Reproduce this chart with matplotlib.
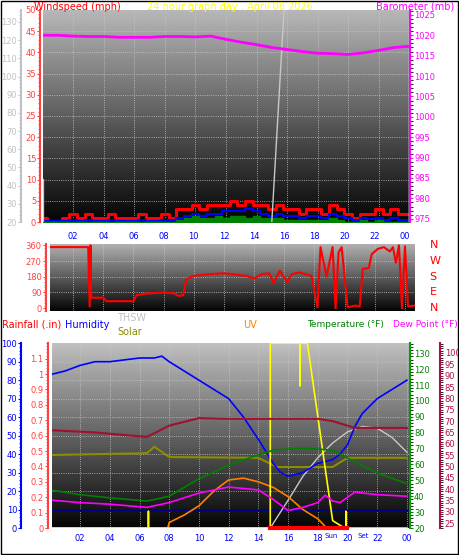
import numpy as np
import matplotlib.pyplot as plt
from matplotlib.ticker import MultipleLocator

# ---- data ----
half_hours = np.arange(0, 24.5, 0.5)
gust = [1, 0, 0, 1, 2, 1, 2, 1, 1, 2,
        1, 1, 1, 2, 1, 1, 2, 1, 3, 3,
        4, 3, 4, 4, 4, 5, 4, 5, 4, 4,
        3, 4, 3, 3, 2, 3, 3, 2, 4, 3,
        2, 1, 2, 2, 3, 2, 3, 2, 2]
wind_avg = [0.3, 0.3, 0.2, 0.3, 0.5, 0.3, 0.5, 0.3, 0.3, 0.5,
            0.3, 0.3, 0.3, 0.5, 0.3, 0.3, 0.5, 0.5, 1.0, 1.5,
            2, 1.5, 2, 2, 2.5, 2.5, 2.5, 3, 2.5, 2,
            1.5, 2, 1.5, 1.5, 1, 1.5, 1.5, 1, 2, 1.5,
            1, 0.5, 1, 0.8, 1, 0.5, 1, 0.5, 0.5]
wind_low = [0, 0, 0, 0, 0, 0, 0, 0, 0, 0,
            0, 0, 0, 0, 0, 0, 0, 0, 0.5, 1,
            1.5, 1, 1, 1.5, 1, 1.5, 1.5, 1, 1.5, 1,
            1, 1, 0.5, 0.5, 0.5, 0.5, 0.5, 0.5, 1, 0.5,
            0, 0, 0.5, 0, 0.5, 0, 0, 0, 0]

hours = np.arange(0, 25)
baro = [1020, 1020, 1019.8, 1019.7, 1019.7, 1019.5, 1019.5, 1019.5, 1019.7, 1019.7,
        1019.6, 1019.8, 1019.0, 1018.3, 1017.7, 1017.0, 1016.5, 1016.0, 1015.6, 1015.5,
        1015.3, 1015.7, 1016.3, 1017.0, 1017.3]
# three separate grey segments (nan breaks the line)
thsw_top_h = [0.05, 0.05, np.nan, 15.0, 15.8, np.nan, 24.0, 24.0]
thsw_top_v = [0, 10, np.nan, 0, 50, np.nan, 0, 48]

dir_h = [0.5, 3, 3.1, 3.15, 3.2, 4, 4.2, 6, 6.2, 7, 8, 8.7, 9, 9.3, 9.5, 10, 11, 12, 13, 13.5,
         14, 14.5, 15, 15.3, 15.7, 16.2, 16.5, 17, 17.8, 18.2, 18.4, 18.8, 19.2, 19.4, 19.6, 19.8,
         20.2, 20.7, 21, 21.2, 21.6, 21.8, 22.2, 22.6, 23, 23.2, 23.4, 23.6, 23.8, 24, 24.2, 24.6]
dir_v = [350, 350, 10, 360, 60, 60, 40, 40, 75, 85, 90, 85, 70, 75, 165, 185, 195, 200, 190, 185,
         170, 195, 200, 145, 215, 150, 195, 205, 185, 5, 350, 180, 350, 0, 320, 350,
         5, 15, 10, 225, 230, 310, 340, 350, 325, 350, 260, 360, 0, 355, 10, 15]

hum_h = [0, 1, 2, 3, 4, 5, 6, 7, 7.5, 8, 9, 10, 11, 12, 13, 14, 15, 15.5, 16, 17, 18, 19, 19.5,
         20, 20.5, 21, 22, 23, 24]
hum_v = [83, 85, 88, 90, 90, 91, 92, 92, 93, 90, 85, 80, 75, 70, 60, 48, 35, 30, 28, 30, 35, 37,
         40, 45, 55, 62, 70, 75, 80]
maroon_h = [0, 3, 6.5, 8, 10, 12, 18, 19, 20.5, 24]
maroon_v = [66, 65, 63, 68, 71.3, 71, 71, 70, 67, 67]
temp_h = [0, 2, 4, 6.5, 8, 10, 12, 14, 15, 17, 19, 20, 22, 24]
temp_v = [44, 41, 39, 37, 40, 51, 59.6, 66, 69, 70.3, 69, 64, 54.6, 48]
dew_h = [0, 2, 4, 6.5, 8, 10, 12, 14, 15, 16, 17, 18, 18.5, 19, 19.5, 20.5, 22, 24]
dew_v = [37.6, 36, 35, 33, 36, 42, 45.8, 44, 38, 31, 33, 36, 40.7, 37, 36, 42.6, 41, 40]
solar_h = [0, 6.5, 7, 8, 14, 14.5, 15.3, 19, 20, 24]
solar_v = [39.5, 40.5, 44, 38.4, 38, 36, 33, 33, 38, 38]
thsw_h = [0, 14.8, 16, 17, 18, 19, 20, 21, 22, 23, 24]
thsw_v = [0, 0, 15, 28, 38, 46, 52, 55, 54, 49, 41]
uv_h = [7.9, 8, 9, 10, 11, 12, 13, 14, 15, 16, 17, 18, 18.6]
uv_v = [0, 3, 7, 12, 20, 26, 27, 25, 22, 17, 10, 5, 0]
yel_h = [0, 6.6, 6.6, 6.6, 14.8, 14.8, 16.8, 16.8, 16.8, 17.3, 19, 19.8, 19.9, 19.9, 19.9, 24]
yel_v = [0, 0, 9, 0, 0, 100, 100, 77, 100, 100, 4, 0, 0, 9, 0, 0]
rain_h = [14.8, 20]
rain_v = [0, 0]

ticks = [2, 4, 6, 8, 10, 12, 14, 16, 18, 20, 22, 24]
tick_lbls = ['02', '04', '06', '08', '10', '12', '14', '16', '18', '20', '22', '00']

fig = plt.figure(figsize=(4.59, 5.55), dpi=100, facecolor='white')
FS = 6
TFS = 7


def gradient(ax, top=0.75):
    g = np.linspace(top, 0.02, 100).reshape(-1, 1)
    ax.imshow(g, cmap='gray', vmin=0, vmax=1, aspect='auto', extent=(0, 1, 0, 1),
              transform=ax.transAxes, zorder=0)


def grid_lines(ax, ys):
    for x in ticks:
        ax.axvline(x, color='#c8c8c8', lw=0.6, ls=':', zorder=1)
    for y in ys:
        ax.axhline(y, color='#c8c8c8', lw=0.6, ls=':', zorder=1)


def left_axis(ax, color, offset, major, minor):
    ax.spines['left'].set_position(('outward', offset))
    ax.spines['left'].set_color(color)
    ax.spines['left'].set_linewidth(1.5)
    ax.yaxis.set_major_locator(MultipleLocator(major))
    ax.yaxis.set_minor_locator(MultipleLocator(minor))
    ax.tick_params(axis='y', colors=color, labelsize=FS, length=2, pad=1)
    ax.tick_params(axis='y', which='minor', colors=color, length=1.5)


def clean(ax):
    for s in ['top', 'bottom', 'right', 'left']:
        ax.spines[s].set_visible(False)


# ---- panel 1: wind and barometer ----
ax1 = fig.add_axes([0.094, 0.6, 0.80, 0.382])
ax1.set_xlim(0.03, 24.07)
ax1.set_ylim(0, 50)
gradient(ax1, 0.72)
grid_lines(ax1, range(5, 50, 5))
clean(ax1)
ax1.spines['left'].set_visible(True)
left_axis(ax1, '#ff4040', 2, 5, 1)
ax1.set_xticks([])
ax1.plot(half_hours, gust, color='red', lw=2.2, drawstyle='steps-mid', zorder=3)
ax1.plot(half_hours, wind_avg, color='blue', lw=1.5, drawstyle='steps-mid', zorder=4)
ax1.fill_between(half_hours, wind_low, color='green', step='mid', zorder=5)
ax1.plot(thsw_top_h, thsw_top_v, color='#c8c8c8', lw=1, zorder=6)

ax1b = ax1.twinx()
clean(ax1b)
ax1b.spines['left'].set_visible(True)
ax1b.yaxis.tick_left()
ax1b.set_ylim(20, 136.6)
left_axis(ax1b, '#c0c0c8', 16, 10, 2)
ax1b.set_yticks(range(20, 140, 10))

ax1c = ax1.twinx()
clean(ax1c)
ax1c.spines['right'].set_visible(True)
ax1c.spines['right'].set_color('magenta')
ax1c.spines['right'].set_linewidth(1.5)
ax1c.set_ylim(974.2, 1026.2)
ax1c.set_yticks(range(975, 1030, 5))
ax1c.yaxis.set_minor_locator(MultipleLocator(1))
ax1c.tick_params(axis='y', colors='magenta', labelsize=FS, length=2, pad=1)
ax1c.plot(hours, baro, color='magenta', lw=2, zorder=5)

fig.text(0.075, 0.997, 'Windspeed (mph)', color='red', fontsize=TFS, va='top')
fig.text(0.5, 0.997, '24 hour graph day : April 08 2026', color='yellow', fontsize=TFS,
         va='top', ha='center')
fig.text(0.99, 0.997, 'Barometer (mb)', color='magenta', fontsize=TFS, va='top', ha='right')

# ---- panel 2: wind direction ----
ax2 = fig.add_axes([0.109, 0.44, 0.795, 0.121])
ax2.set_xlim(0.47, 24.66)
ax2.set_ylim(-15, 370)
gradient(ax2, 0.7)
grid_lines(ax2, [90, 180, 270])
clean(ax2)
ax2.spines['left'].set_visible(True)
left_axis(ax2, '#ff4040', 3, 90, 15)
ax2.set_yticks([0, 90, 180, 270, 360])
ax2.xaxis.tick_top()
ax2.set_xticks(ticks)
ax2.set_xticklabels(tick_lbls)
ax2.tick_params(axis='x', colors='blue', labelsize=FS, length=0, pad=2)
ax2.plot(dir_h, dir_v, color='red', lw=1.5, zorder=3)
for lab, y in zip(['N', 'W', 'S', 'E', 'N'], [360, 270, 180, 90, 0]):
    ax2.text(1.04, (y + 15) / 385, lab, color='red', fontsize=8, transform=ax2.transAxes,
             va='center')

# ---- panel 3: temperatures etc. ----
ax3 = fig.add_axes([0.113, 0.0486, 0.78, 0.333])
ax3.set_xlim(0.1, 24.2)
ax3.set_ylim(0, 100)
gradient(ax3, 0.75)
grid_lines(ax3, range(10, 100, 10))
clean(ax3)
ax3.spines['left'].set_visible(True)
left_axis(ax3, 'blue', 22, 10, 2)
ax3.set_xticks(ticks)
ax3.set_xticklabels(tick_lbls)
ax3.tick_params(axis='x', colors='blue', labelsize=FS, length=0, pad=4)
ax3.axhline(10, color='navy', lw=1, zorder=2)
ax3.plot(solar_h, solar_v, color='#8c8c00', lw=1.5, zorder=3)
ax3.plot(thsw_h, thsw_v, color='#c8c8c8', lw=1, zorder=3)
ax3.plot(uv_h, uv_v, color='#ff8000', lw=1.2, zorder=3)
ax3.plot(hum_h, hum_v, color='blue', lw=1.2, zorder=4)
ax3.plot(yel_h, yel_v, color='yellow', lw=1.2, zorder=5)
ax3.text(19.35, -2.5, 'Sun', color='blue', fontsize=5, ha='right', va='top')
ax3.text(20.65, -2.5, 'Set', color='blue', fontsize=5, ha='left', va='top')

ax3r = ax3.twinx()
clean(ax3r)
ax3r.spines['left'].set_visible(True)
ax3r.yaxis.tick_left()
ax3r.set_ylim(0, 1.2)
left_axis(ax3r, '#ff4040', 3, 0.1, 0.02)
ax3r.set_yticks(np.arange(0, 1.15, 0.1))
ax3r.set_yticklabels(['0'] + ['%g' % v for v in np.round(np.arange(0.1, 1.15, 0.1), 1)])
ax3r.plot(rain_h, rain_v, color='red', lw=3, zorder=5, clip_on=False)

ax3t = ax3.twinx()
clean(ax3t)
ax3t.spines['right'].set_visible(True)
ax3t.spines['right'].set_color('#00a000')
ax3t.spines['right'].set_linewidth(1.5)
ax3t.set_ylim(20, 136.3)
ax3t.set_yticks(range(20, 140, 10))
ax3t.yaxis.set_minor_locator(MultipleLocator(2))
ax3t.tick_params(axis='y', colors='#008000', labelsize=FS, length=2, pad=1)
ax3t.plot(temp_h, temp_v, color='#008000', lw=1.2, zorder=4)
ax3t.plot(dew_h, dew_v, color='magenta', lw=1.2, zorder=4)

ax3d = ax3.twinx()
clean(ax3d)
ax3d.spines['right'].set_visible(True)
ax3d.spines['right'].set_position(('outward', 22))
ax3d.spines['right'].set_color('#b01040')
ax3d.spines['right'].set_linewidth(1.5)
ax3d.set_ylim(22.9, 104.3)
ax3d.set_yticks(range(25, 105, 5))
ax3d.yaxis.set_minor_locator(MultipleLocator(1))
ax3d.tick_params(axis='y', colors='#b01040', labelsize=FS, length=2, pad=1)
ax3d.plot(maroon_h, maroon_v, color='#a01030', lw=1.5, zorder=3)

fig.text(0.005, 0.415, 'Rainfall (.in)', color='red', fontsize=TFS, va='center')
fig.text(0.142, 0.415, 'Humidity', color='blue', fontsize=TFS, va='center')
fig.text(0.255, 0.427, 'THSW', color='#c0c0c0', fontsize=TFS, va='center')
fig.text(0.255, 0.402, 'Solar', color='#8c8c00', fontsize=TFS, va='center')
fig.text(0.53, 0.415, 'UV', color='#ff8000', fontsize=TFS, va='center')
fig.text(0.668, 0.415, 'Temperature (°F)', color='#008000', fontsize=TFS - 0.5, va='center')
fig.text(0.997, 0.415, 'Dew Point (°F)', color='magenta', fontsize=TFS - 0.5, va='center',
         ha='right')

# outer frame
fig.patches.append(plt.Rectangle((0.002, 0.002), 0.996, 0.996, transform=fig.transFigure,
                                 fill=False, edgecolor='black', lw=1))

plt.savefig('out.png', dpi=100, facecolor='white')
